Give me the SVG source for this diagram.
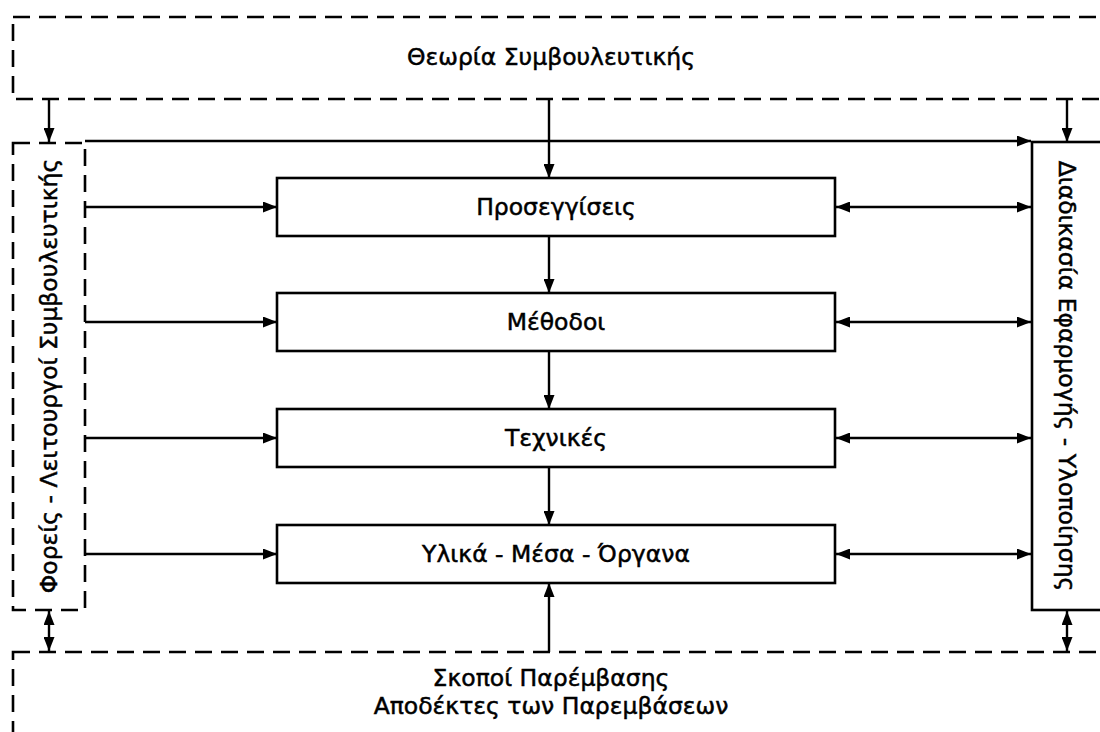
<svg xmlns="http://www.w3.org/2000/svg" width="1100" height="732" viewBox="0 0 1100 732">
<defs>
<marker id="ah" viewBox="0 0 14 11" refX="14" refY="5.5" markerWidth="14" markerHeight="11" markerUnits="userSpaceOnUse" orient="auto-start-reverse">
<path d="M0,0 L14,5.5 L0,11 Z" fill="#000"/>
</marker>
<style>
.dash{fill:#fff;stroke:#000;stroke-width:2.6;stroke-dasharray:17 9}
.box{fill:#fff;stroke:#000;stroke-width:2.6}
.ln{fill:none;stroke:#000;stroke-width:2.4}
.t{font-family:"DejaVu Sans","Noto Sans",sans-serif;font-size:23.5px;fill:#000;stroke:#000;stroke-width:0.5;text-anchor:middle}
</style>
</defs>
<rect width="1100" height="732" fill="#fff"/>
<g id="theory">
<rect class="dash" x="13" y="17" width="1100" height="82"/>
<text class="t" x="551" y="65">Θεωρία Συμβουλευτικής</text>
</g>
<g id="agents">
<rect class="dash" x="13" y="143" width="72" height="467"/>
<text class="t" transform="translate(57,376) rotate(-90)">Φορείς - Λειτουργοί Συμβουλευτικής</text>
</g>
<g id="process">
<rect class="box" x="1032" y="142" width="90" height="468"/>
<text class="t" transform="translate(1059,376) rotate(90)">Διαδικασία Εφαρμογής - Υλοποίησης</text>
</g>
<g id="approaches">
<rect class="box" x="277" y="178" width="558" height="58"/>
<text class="t" x="556" y="215">Προσεγγίσεις</text>
</g>
<g id="methods">
<rect class="box" x="277" y="293" width="558" height="58"/>
<text class="t" x="556" y="330">Μέθοδοι</text>
</g>
<g id="techniques">
<rect class="box" x="277" y="409" width="558" height="58"/>
<text class="t" x="556" y="446">Τεχνικές</text>
</g>
<g id="materials">
<rect class="box" x="277" y="525" width="558" height="58"/>
<text class="t" x="556" y="562">Υλικά - Μέσα - Όργανα</text>
</g>
<g id="goals">
<rect class="dash" x="13" y="652" width="1100" height="100"/>
<text class="t" x="551" y="686">Σκοποί Παρέμβασης</text>
<text class="t" x="551" y="714">Αποδέκτες των Παρεμβάσεων</text>
</g>
<g id="connectors">
<path class="ln" d="M49,99 V142" marker-end="url(#ah)"/>
<path class="ln" d="M1067,99 V142" marker-end="url(#ah)"/>
<path class="ln" d="M549,99 V178" marker-end="url(#ah)"/>
<path class="ln" d="M85,141 H1031" marker-end="url(#ah)"/>
<path class="ln" d="M85,207 H277" marker-end="url(#ah)"/>
<path class="ln" d="M85,322 H277" marker-end="url(#ah)"/>
<path class="ln" d="M85,438 H277" marker-end="url(#ah)"/>
<path class="ln" d="M85,554 H277" marker-end="url(#ah)"/>
<path class="ln" d="M836,207 H1031" marker-start="url(#ah)" marker-end="url(#ah)"/>
<path class="ln" d="M836,322 H1031" marker-start="url(#ah)" marker-end="url(#ah)"/>
<path class="ln" d="M836,438 H1031" marker-start="url(#ah)" marker-end="url(#ah)"/>
<path class="ln" d="M836,554 H1031" marker-start="url(#ah)" marker-end="url(#ah)"/>
<path class="ln" d="M549,236 V293" marker-end="url(#ah)"/>
<path class="ln" d="M549,351 V409" marker-end="url(#ah)"/>
<path class="ln" d="M549,467 V525" marker-end="url(#ah)"/>
<path class="ln" d="M549,652 V583" marker-end="url(#ah)"/>
<path class="ln" d="M49,611 V651" marker-start="url(#ah)" marker-end="url(#ah)"/>
<path class="ln" d="M1067,611 V651" marker-start="url(#ah)" marker-end="url(#ah)"/>
</g>
</svg>
